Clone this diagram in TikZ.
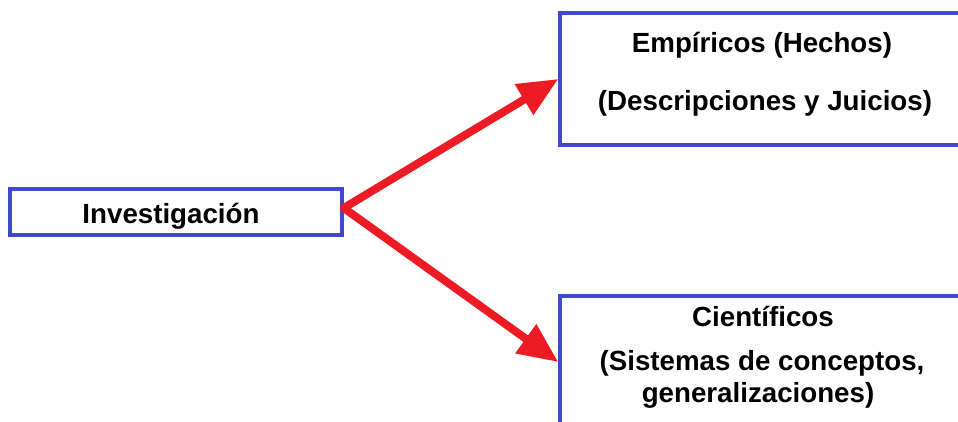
\documentclass[tikz,border=0pt]{standalone}
\usepackage{fontspec}
\setmainfont{Liberation Sans}
\usetikzlibrary{arrows.meta}
\definecolor{boxblue}{RGB}{64,72,204}
\definecolor{arrowred}{RGB}{237,28,36}
\begin{document}
\begin{tikzpicture}[x=1pt,y=-1pt,
  box/.style={draw=boxblue, line width=3.5pt, fill=white, inner sep=0pt},
  lbl/.style={anchor=base, font=\bfseries\fontsize{27.7}{33}\selectfont, text=black, inner sep=0pt},
  arr/.style={draw=arrowred, line width=8pt, line cap=round,
    -{Triangle[length=40pt,width=34pt]}}]
  % canvas
  \useasboundingbox (0,0) rectangle (958,421);
  \fill[white] (0,0) rectangle (958,421);
  \clip (0,0) rectangle (958,421);

  % boxes (the two on the right run past the edge)
  \node[box, minimum width=332pt, minimum height=46pt] (inv) at (176,212) {};
  \node[box, minimum width=440pt, minimum height=132pt] (emp) at (780,79) {};
  \node[box, minimum width=440pt, minimum height=132pt] (cie) at (780,362) {};

  % texts
  \node[lbl] (invt) at (171,223) {Investigación};
  \node[lbl] (empa) at (762,52) {Empíricos (Hechos)};
  \node[lbl] (empb) at (765,110) {(Descripciones y Juicios)};
  \node[lbl] (ciea) at (763,326) {Científicos};
  \node[lbl] (cieb) at (762,370) {(Sistemas de conceptos,};
  \node[lbl] (ciec) at (758,402) {generalizaciones)};

  % arrows
  \coordinate (fork) at ([yshift=4pt]inv.east);
  \draw[arr] (fork) -- (emp.west);
  \draw[arr] (fork) -- (cie.west);
\end{tikzpicture}
\end{document}
